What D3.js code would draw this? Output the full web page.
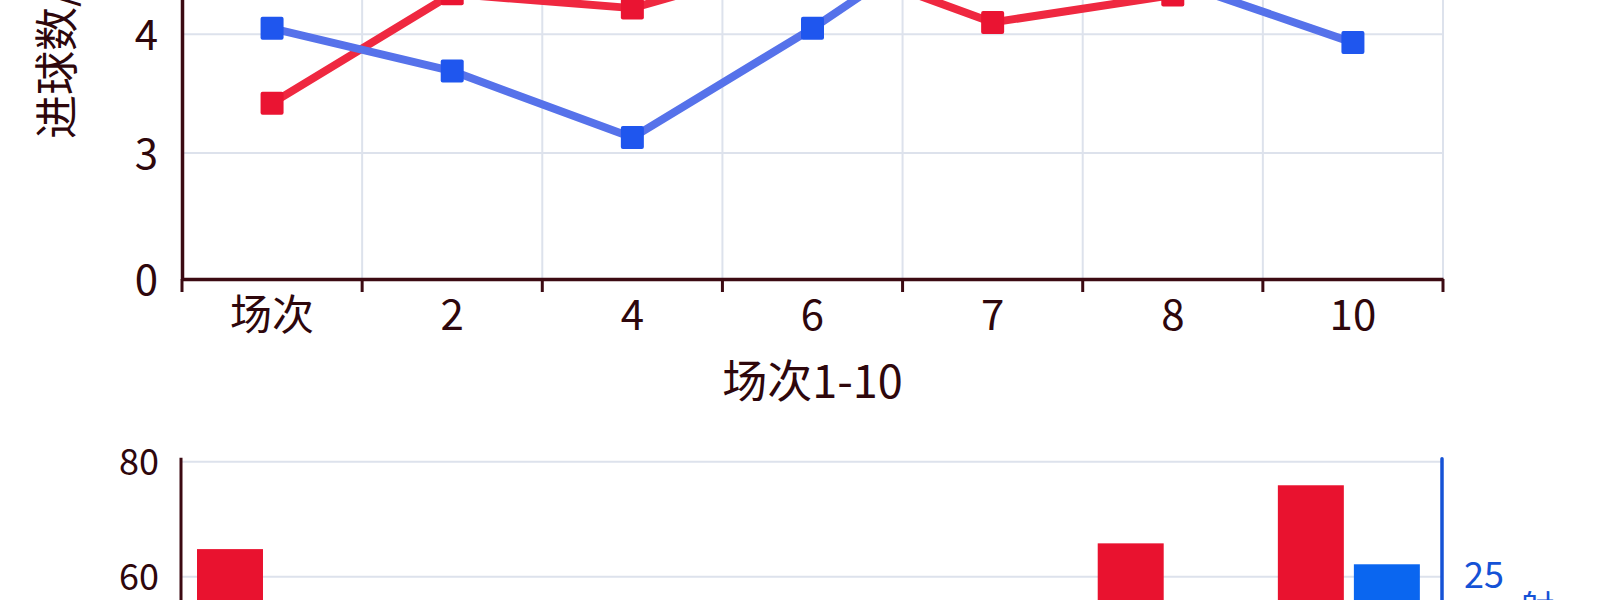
<!DOCTYPE html>
<html>
<head>
<meta charset="utf-8">
<script src="https://cdn.jsdelivr.net/npm/d3@7"></script>
<style>
  body { margin: 0; background: #fff; overflow: hidden; }
  svg { display: block; }
</style>
</head>
<body>
<div id="Chart"></div>
<script>
const rounds = ["场次", "2", "4", "6", "7", "8", "10"];
const goalsRed  = [3.42, 4.34, 4.22, 4.65, 4.10, 4.33, 4.75];
const goalsBlue = [4.05, 3.69, 3.13, 4.05, 5.07, 4.45, 3.93];
const goalTicks = [0, 3, 4, 5];
const barRed  = [64.8, 48, 52, 45, 50, 65.8, 75.9];
const barBlue = [18, 20, 15, 22, 19, 21, 25.9];
const barTicksLeft = [0, 20, 40, 60, 80];
const barTicksRight = [0, 25];

const W = 1600, H = 600;
const FONT = '"Noto Sans CJK SC", "Noto Sans", sans-serif';
const plot = {left: 182, right: 1443};
const ink = "#2e070c", axisInk = "#3c0a12";
const grid = "#dde2ec";
const red = {line: "#ef2840", mark: "#ea1432", bar: "#e9122f"};
const blue = {line: "#5672ea", mark: "#1f56ee", bar: "#0a66f0", axis: "#1552d6"};

const svg = d3.select("#Chart").append("svg")
  .attr("width", W).attr("height", H)
  .attr("font-family", FONT);

const x = d3.scaleBand().domain(rounds).range([plot.left, plot.right]).padding(0);
const cx = d => x(d) + x.bandwidth() / 2;
const bounds = rounds.map(r => x(r)).concat([plot.right]);

drawGoals();
drawBars();

function styleAxis(sel, color, size) {
  sel.attr("font-family", FONT).attr("font-size", size);
  sel.selectAll("text").attr("fill", color);
}

function drawGoals() {
  // broken axis: 0..3 is squeezed
  const y = d3.scaleLinear().domain([0, 3, 4, 5]).range([279, 153, 34.3, -84.7]);
  const g = svg.append("g");

  g.append("g").selectAll("line.v").data(bounds.slice(1)).join("line")
    .attr("x1", d => d).attr("x2", d => d)
    .attr("y1", y(5) - 20).attr("y2", y(0))
    .attr("stroke", grid).attr("stroke-width", 2);
  g.append("g").selectAll("line.h").data(goalTicks.slice(1)).join("line")
    .attr("x1", plot.left).attr("x2", plot.right)
    .attr("y1", d => y(d)).attr("y2", d => y(d))
    .attr("stroke", grid).attr("stroke-width", 2);

  const yAxis = g.append("g")
    .attr("transform", `translate(${plot.left} 0)`)
    .call(d3.axisLeft(y).tickValues(goalTicks).tickFormat(d3.format("d")).tickSize(0).tickPadding(24));
  yAxis.select(".domain").attr("stroke", axisInk).attr("stroke-width", 3.5);
  styleAxis(yAxis, ink, 42);
  yAxis.selectAll("text").attr("dy", "0.36em");

  const xAxis = g.append("g")
    .attr("transform", `translate(0 ${y(0)})`)
    .call(d3.axisBottom(x).tickSize(0).tickSizeOuter(0).tickPadding(0));
  xAxis.select(".domain").attr("stroke", axisInk).attr("stroke-width", 3.5);
  styleAxis(xAxis, ink, 42);
  xAxis.selectAll("text").attr("dy", null).attr("y", 51);
  xAxis.selectAll("line.b").data(bounds).join("line").attr("class", "b")
    .attr("x1", d => d).attr("x2", d => d).attr("y1", 0).attr("y2", 13)
    .attr("stroke", axisInk).attr("stroke-width", 3);

  g.append("text")
    .attr("x", (plot.left + plot.right) / 2).attr("y", 398)
    .attr("text-anchor", "middle").attr("fill", ink).attr("font-size", 45)
    .text("场次1-10");
  g.append("text")
    .attr("transform", "translate(73 139) rotate(-90)")
    .attr("fill", ink).attr("font-size", 44)
    .text("进球数/场");

  const line = d3.line().x((d, i) => cx(rounds[i])).y(d => y(d));
  for (const s of [{v: goalsRed, c: red}, {v: goalsBlue, c: blue}]) {
    g.append("path").datum(s.v)
      .attr("d", line).attr("fill", "none")
      .attr("stroke", s.c.line).attr("stroke-width", 8).attr("stroke-linejoin", "round");
    g.append("g").selectAll("rect").data(s.v).join("rect")
      .attr("x", (d, i) => cx(rounds[i]) - 11.5).attr("y", d => y(d) - 11.5)
      .attr("width", 23).attr("height", 23).attr("rx", 2)
      .attr("fill", s.c.mark);
  }
}

function drawBars() {
  const yL = d3.scaleLinear().domain([0, 80]).range([921.7, 461.7]);
  const yR = d3.scaleLinear().domain([0, 25 * 80 / 60]).range([921.7, 461.7]);
  const x1 = d3.scaleBand().domain(["red", "blue"]).range([15, 157]).paddingInner(0.132);
  const g = svg.append("g");

  g.append("g").selectAll("line").data(barTicksLeft.slice(1)).join("line")
    .attr("x1", plot.left).attr("x2", plot.right - 1)
    .attr("y1", d => yL(d)).attr("y2", d => yL(d))
    .attr("stroke", grid).attr("stroke-width", 2);

  const groups = g.append("g").selectAll("g").data(rounds).join("g")
    .attr("transform", d => `translate(${x(d)} 0)`);
  groups.append("rect")
    .attr("x", x1("red")).attr("width", x1.bandwidth())
    .attr("y", (d, i) => yL(barRed[i])).attr("height", (d, i) => yL(0) - yL(barRed[i]))
    .attr("fill", red.bar);
  groups.append("rect")
    .attr("x", x1("blue")).attr("width", x1.bandwidth())
    .attr("y", (d, i) => yR(barBlue[i])).attr("height", (d, i) => yR(0) - yR(barBlue[i]))
    .attr("fill", blue.bar);

  const left = g.append("g")
    .attr("transform", `translate(${plot.left - 1} 0)`)
    .call(d3.axisLeft(yL).tickValues(barTicksLeft).tickSize(0).tickPadding(22).tickSizeOuter(0));
  left.select(".domain").attr("stroke", axisInk).attr("stroke-width", 3)
    .attr("d", `M0,${yL(80) - 4}V${yL(0)}`);
  styleAxis(left, ink, 36);
  left.selectAll("text").attr("dy", "0.36em");

  const right = g.append("g")
    .attr("transform", `translate(${plot.right - 1} 0)`)
    .call(d3.axisRight(yR).tickValues(barTicksRight).tickSize(0).tickPadding(22).tickSizeOuter(0));
  right.select(".domain").attr("stroke", blue.axis).attr("stroke-width", 3.5)
    .attr("stroke-linecap", "round")
    .attr("d", `M0,${yL(80) - 3}V${yR(0)}`);
  styleAxis(right, blue.axis, 36);
  right.selectAll("text").attr("dy", "0.3em");

  g.append("text")
    .attr("x", 1537).attr("y", 590)
    .attr("writing-mode", "vertical-rl")
    .attr("fill", blue.axis).attr("font-size", 35)
    .text("射门数");
}
</script>
</body>
</html>
